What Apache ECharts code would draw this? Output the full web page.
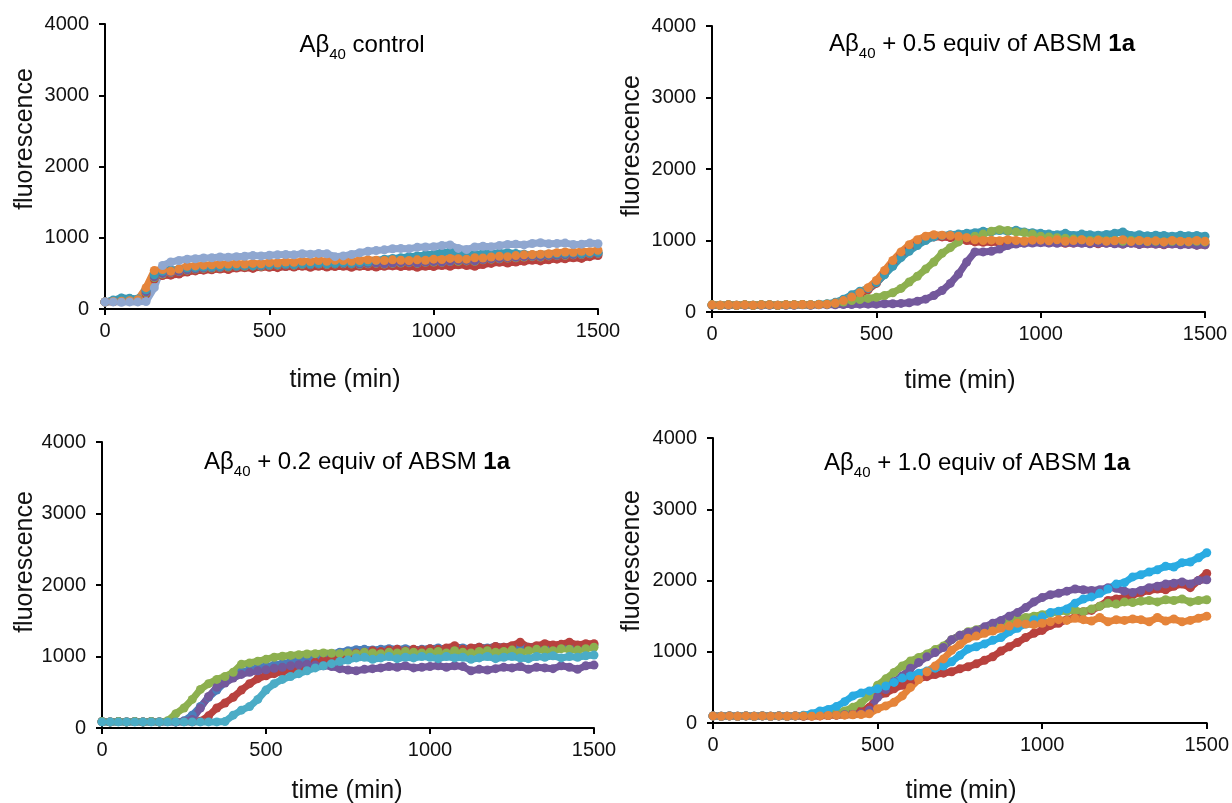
<!DOCTYPE html>
<html>
<head>
<meta charset="utf-8">
<script src="https://cdn.jsdelivr.net/npm/echarts@6/dist/echarts.min.js"></script>
<style>
html,body{margin:0;padding:0;background:#fff;}
#chart{width:1232px;height:803px;}
</style>
</head>
<body>
<div id="chart"></div>
<script>
// time points (min)
const times = [0,25,50,75,100,125,150,175,200,225,
  250,275,300,325,350,375,400,425,450,475,
  500,525,550,575,600,625,650,675,700,725,
  750,775,800,825,850,875,900,925,950,975,
  1000,1025,1050,1075,1100,1125,1150,1175,1200,1225,
  1250,1275,1300,1325,1350,1375,1400,1425,1450,1475,1500];

const xTicks = [0, 500, 1000, 1500];
const yTicks = [0, 1000, 2000, 3000, 4000];

// Panel 1: Aβ40 control
const p1Blue = [100,120,150,140,130,260,470,520,540,550,
  560,565,570,575,580,585,590,590,600,595,
  600,605,600,610,615,610,620,615,620,625,
  620,630,625,630,640,635,645,650,655,660,
  665,670,680,690,685,690,700,705,715,720,
  730,735,740,745,750,755,760,765,770,775,780];
const p1Red = [100,105,115,115,110,210,420,470,475,490,
  520,535,545,550,560,555,575,580,570,590,
  585,580,595,590,600,585,600,590,595,600,
  585,600,595,590,600,605,595,600,585,600,
  595,610,600,620,610,600,625,640,655,645,
  660,670,685,675,690,700,705,720,710,735,750];
const p1Green = [100,110,125,120,115,230,440,490,510,525,
  545,560,570,575,580,590,595,600,605,600,
  610,615,620,615,625,620,630,625,630,635,
  630,625,635,640,630,640,645,650,640,655,
  660,655,665,670,675,670,690,700,705,715,
  720,730,735,730,745,750,755,760,765,775,780];
const p1Purple = [100,110,130,125,120,240,450,500,515,530,
  550,565,575,580,585,595,600,605,610,605,
  615,620,625,620,630,625,635,630,635,640,
  635,630,640,645,635,645,650,655,645,660,
  665,660,670,680,680,675,695,705,710,720,
  725,735,740,735,750,755,760,765,770,780,785];
const p1Teal = [100,125,155,150,140,270,480,530,545,560,
  575,580,590,590,595,600,605,610,605,615,
  620,625,630,625,635,630,640,635,640,650,
  640,650,660,680,700,710,720,735,745,760,
  770,790,800,780,760,770,775,780,785,790,
  780,770,760,765,770,775,780,785,780,790,795];
const p1Orange = [100,105,110,115,130,300,540,555,530,560,
  600,605,615,620,625,630,635,630,640,635,
  650,645,660,655,670,665,680,670,685,680,
  670,680,690,685,680,690,685,680,690,685,
  700,695,710,705,700,720,715,730,740,735,
  750,760,765,770,775,790,800,795,810,805,825];
const p1Light = [100,100,95,100,100,105,300,610,660,680,
  700,705,715,720,730,725,735,740,750,745,
  755,760,765,760,775,770,780,775,735,745,
  765,790,810,820,830,845,850,845,865,870,
  875,890,900,850,835,870,880,875,890,905,
  910,900,920,930,915,920,925,905,910,925,915];

// Panel 2: + 0.5 equiv
const p2Red = [100,95,100,95,100,95,100,100,95,100,
  100,105,100,105,110,120,150,195,250,310,
  400,530,670,800,900,980,1030,1050,1050,1040,
  1030,1000,980,975,980,970,975,980,985,975,
  980,970,975,960,965,970,960,955,965,960,
  950,965,945,955,950,940,955,945,950,935,940];
const p2Purple = [95,90,95,90,95,90,95,95,90,95,
  95,100,95,100,100,100,105,105,110,110,
  110,115,115,120,130,150,180,230,300,400,
  530,700,840,840,850,880,930,950,960,965,
  970,965,960,970,965,960,955,965,960,955,
  950,960,945,955,950,945,950,940,945,935,940];
const p2Teal = [100,95,100,95,100,95,100,100,95,100,
  100,105,100,110,115,135,180,240,290,330,
  410,520,640,760,850,930,1000,1050,1070,1080,
  1090,1100,1110,1130,1120,1140,1130,1145,1120,1110,
  1100,1090,1080,1100,1070,1090,1080,1075,1085,1100,
  1120,1070,1080,1065,1075,1070,1060,1075,1065,1070,1060];
const p2Green = [100,95,100,95,100,95,100,100,95,100,
  100,105,100,105,110,120,140,160,175,190,
  205,230,270,330,420,500,600,700,820,900,
  980,1040,1060,1090,1130,1150,1140,1120,1110,1090,
  1060,1050,1040,1030,1020,1010,1000,1010,995,1000,
  990,1000,995,985,990,980,990,985,980,990,980];
const p2Orange = [100,95,100,95,100,95,100,100,95,100,
  100,105,100,105,110,125,160,210,270,340,
  440,580,720,840,940,1010,1060,1080,1075,1070,
  1060,1040,1010,1000,1005,995,1010,1000,990,1005,
  1005,995,1010,990,1000,1010,985,1005,990,995,
  1010,985,1000,990,995,980,1000,990,985,1000,990];

// Panel 3: + 0.2 equiv
const p3Blue = [90,85,90,85,90,85,90,85,90,85,
  100,180,300,430,530,640,720,780,815,840,
  860,880,900,920,945,965,990,1020,1040,1060,
  1080,1095,1100,1090,1100,1110,1100,1110,1095,1100,
  1110,1120,1100,1130,1120,1110,1130,1120,1140,1130,
  1120,1150,1130,1140,1150,1130,1160,1140,1150,1140,1160];
const p3Red = [90,85,90,85,90,85,90,85,90,85,
  90,88,95,170,280,350,430,530,620,690,
  730,760,790,820,840,880,920,950,980,1010,
  1030,1050,1060,1080,1070,1090,1100,1080,1100,1090,
  1110,1100,1120,1150,1100,1120,1130,1110,1140,1130,
  1150,1200,1130,1150,1180,1160,1170,1200,1160,1180,1180];
const p3Purple = [90,85,90,85,90,85,90,85,90,85,
  90,120,280,440,570,630,700,750,780,800,
  815,835,850,870,885,890,880,870,860,830,
  810,800,820,830,840,860,850,870,840,850,
  860,870,850,870,860,800,820,810,830,850,
  840,860,820,850,840,830,870,850,820,870,880];
const p3Green = [90,85,90,85,90,85,90,85,100,200,
  280,400,540,620,680,720,780,890,910,935,
  960,990,1005,1015,1025,1035,1040,1050,1045,1040,
  1050,1040,1060,1050,1040,1060,1050,1070,1060,1050,
  1060,1070,1050,1080,1060,1050,1070,1080,1060,1070,
  1090,1060,1080,1100,1090,1080,1110,1100,1090,1110,1130];
const p3Aqua = [85,85,85,85,85,85,85,85,85,85,
  85,85,85,85,85,90,180,250,300,400,
  530,620,680,720,760,800,840,870,900,930,
  950,980,990,960,980,1000,970,990,980,1000,
  990,970,1000,980,990,960,980,1000,970,990,
  1000,980,970,1000,990,1010,980,1000,990,1010,1020];

// Panel 4: + 1.0 equiv
const p4Red = [100,95,100,95,100,95,100,95,100,95,
  100,95,100,100,105,110,120,140,170,220,
  370,420,480,530,570,620,650,680,700,720,
  760,790,830,880,930,1010,1070,1130,1200,1260,
  1300,1370,1400,1450,1480,1560,1580,1640,1720,1740,
  1760,1800,1830,1860,1880,1870,1920,1950,1900,2000,2100];
const p4Green = [100,95,100,95,100,95,100,95,100,95,
  100,100,105,110,120,140,170,220,280,380,
  530,620,710,800,870,920,970,1030,1080,1170,
  1230,1280,1310,1340,1370,1400,1440,1460,1480,1500,
  1520,1540,1560,1570,1580,1560,1600,1640,1680,1670,
  1700,1690,1710,1720,1700,1730,1720,1740,1700,1720,1730];
const p4Purple = [100,95,100,95,100,95,100,95,100,95,
  100,100,100,105,105,110,115,120,130,180,
  360,470,580,660,770,850,930,990,1060,1170,
  1230,1270,1300,1350,1400,1440,1500,1550,1620,1700,
  1760,1800,1820,1850,1880,1870,1860,1870,1900,1890,
  1850,1830,1860,1900,1920,1950,1960,1980,1950,2000,2010];
const p4Sky = [100,95,100,95,100,95,100,95,100,95,
  100,110,130,170,190,230,300,380,420,450,
  480,520,570,630,660,700,730,770,800,860,
  950,1040,1070,1110,1160,1200,1280,1330,1390,1450,
  1490,1550,1570,1600,1680,1740,1770,1820,1880,1950,
  1970,2050,2080,2120,2150,2200,2190,2250,2260,2320,2390];
const p4Orange = [100,95,100,95,100,95,100,95,100,95,
  100,100,95,100,105,110,110,115,120,130,
  200,240,290,380,500,610,720,800,900,1020,
  1100,1190,1220,1260,1290,1330,1360,1400,1390,1380,
  1400,1420,1450,1440,1470,1450,1430,1480,1420,1450,
  1440,1460,1450,1420,1480,1430,1460,1420,1440,1470,1500];

const C = {
  blue: '#4A7EBB', red: '#B8413E', green: '#8DB04F', purple: '#73589C',
  teal: '#3C9AB4', orange: '#E5843A', light: '#8FA7D0', aqua: '#4BACC6', sky: '#2AABE2'
};

const FONT = "'Liberation Sans', Arial, Helvetica, sans-serif";

const grids = [
  {left: 105, top: 24, width: 493, height: 285},
  {left: 712, top: 26, width: 493, height: 286},
  {left: 102, top: 442, width: 492, height: 286},
  {left: 713, top: 438, width: 494, height: 285}
];

function xAx(i) {
  return {
    type: 'value', gridIndex: i, min: xTicks[0], max: xTicks[xTicks.length - 1], interval: 500,
    axisLine: {show: true, onZero: false, lineStyle: {color: '#000', width: 2}},
    axisTick: {show: true, inside: false, length: 6, lineStyle: {color: '#000', width: 2}},
    axisLabel: {color: '#111', fontSize: 20, fontFamily: FONT, margin: 12, formatter: v => String(v)},
    splitLine: {show: false}
  };
}
function yAx(i) {
  return {
    type: 'value', gridIndex: i, min: yTicks[0], max: yTicks[yTicks.length - 1], interval: 1000,
    axisLine: {show: true, onZero: false, lineStyle: {color: '#000', width: 2}},
    axisTick: {show: true, inside: false, length: 6, lineStyle: {color: '#000', width: 2}},
    axisLabel: {color: '#111', fontSize: 20, fontFamily: FONT, margin: 16, formatter: v => String(v)},
    splitLine: {show: false}
  };
}

function mk(vals, color, gi) {
  return {
    type: 'line', xAxisIndex: gi, yAxisIndex: gi,
    data: times.map((t, k) => [t, vals[k]]),
    symbol: 'circle', symbolSize: 9, showAllSymbol: true,
    itemStyle: {color: color},
    lineStyle: {color: color, width: 7},
    silent: true, animation: false
  };
}

const panelSeries = [
  [[p1Blue, C.blue], [p1Red, C.red], [p1Green, C.green], [p1Purple, C.purple], [p1Teal, C.teal], [p1Orange, C.orange], [p1Light, C.light]],
  [[p2Red, C.red], [p2Purple, C.purple], [p2Teal, C.teal], [p2Green, C.green], [p2Orange, C.orange]],
  [[p3Blue, C.blue], [p3Red, C.red], [p3Purple, C.purple], [p3Green, C.green], [p3Aqua, C.aqua]],
  [[p4Red, C.red], [p4Green, C.green], [p4Purple, C.purple], [p4Sky, C.sky], [p4Orange, C.orange]]
];

const series = [];
panelSeries.forEach((list, gi) => list.forEach(s => series.push(mk(s[0], s[1], gi))));

const titles = [
  {text: '{m|Aβ}{s|40}{m| control}', x: 362, y: 45},
  {text: '{m|Aβ}{s|40}{m| + 0.5 equiv of ABSM }{b|1a}', x: 982, y: 44},
  {text: '{m|Aβ}{s|40}{m| + 0.2 equiv of ABSM }{b|1a}', x: 357, y: 462},
  {text: '{m|Aβ}{s|40}{m| + 1.0 equiv of ABSM }{b|1a}', x: 977, y: 463}
];
const yNames = [{x: 25, y: 139}, {x: 632, y: 146}, {x: 25, y: 562}, {x: 632, y: 561}];
const xNames = [{x: 345, y: 380}, {x: 960, y: 381}, {x: 347, y: 791}, {x: 961, y: 791}];

const rich = {
  m: {fontSize: 24, fontFamily: FONT, color: '#111', lineHeight: 34, verticalAlign: 'middle'},
  s: {fontSize: 15, fontFamily: FONT, color: '#111', lineHeight: 15, verticalAlign: 'bottom'},
  b: {fontSize: 24, fontFamily: FONT, color: '#111', fontWeight: 'bold', lineHeight: 34, verticalAlign: 'middle'}
};

const graphic = [];
titles.forEach(t => graphic.push({
  type: 'text', x: t.x, y: t.y, silent: true,
  style: {text: t.text, rich: rich, align: 'center', verticalAlign: 'middle', textAlign: 'center', textVerticalAlign: 'middle'}
}));
yNames.forEach(p => graphic.push({
  type: 'text', x: p.x, y: p.y, rotation: Math.PI / 2, silent: true,
  style: {text: 'fluorescence', font: '25px ' + FONT, fill: '#111', align: 'center', verticalAlign: 'middle', textAlign: 'center', textVerticalAlign: 'middle'}
}));
xNames.forEach(p => graphic.push({
  type: 'text', x: p.x, y: p.y, silent: true,
  style: {text: 'time (min)', font: '25px ' + FONT, fill: '#111', align: 'center', verticalAlign: 'middle', textAlign: 'center', textVerticalAlign: 'middle'}
}));

const chart = echarts.init(document.getElementById('chart'), null, {renderer: 'canvas'});
chart.setOption({
  animation: false,
  backgroundColor: '#fff',
  grid: grids,
  xAxis: [0, 1, 2, 3].map(xAx),
  yAxis: [0, 1, 2, 3].map(yAx),
  series: series,
  graphic: graphic
});
</script>
</body>
</html>
